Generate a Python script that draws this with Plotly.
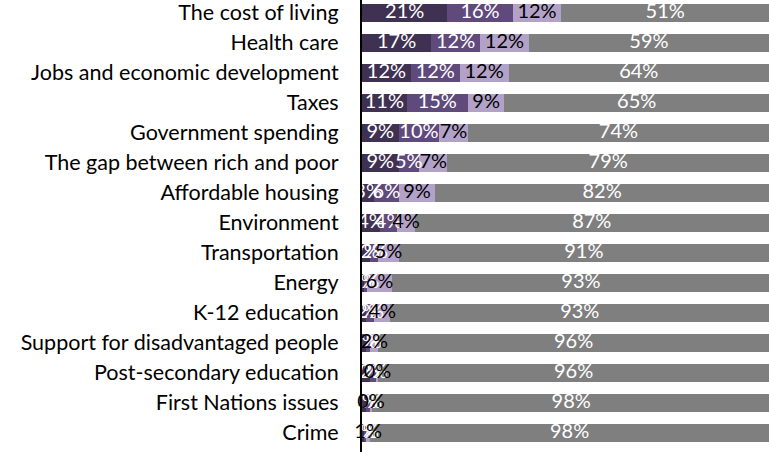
import plotly.graph_objects as go

categories = ["The cost of living", "Health care", "Jobs and economic development", "Taxes",
              "Government spending", "The gap between rich and poor", "Affordable housing",
              "Environment", "Transportation", "Energy", "K-12 education",
              "Support for disadvantaged people", "Post-secondary education",
              "First Nations issues", "Crime"]

dark_vals = [21, 17, 12, 11, 9, 9, 3, 4.4, 2, 0.4, 1, 1, 2, 1, 0.4]
medium_vals = [16, 12, 12, 15, 10, 5, 6, 4.3, 2, 0.9, 2, 1, 1.6, 1, 0.6]
light_vals = [12, 12, 12, 9, 7, 7, 9, 4.2, 5, 6, 4, 2, 0.4, 0.4, 1]
gray_vals = [51, 59, 64, 65, 74, 79, 82, 87.1, 91, 93, 93, 96, 96, 98, 98]

series = [
    (dark_vals, "#3f3151", "white"),
    (medium_vals, "#604a7b", "white"),
    (light_vals, "#b3a2c7", "black"),
    (gray_vals, "#7f7f7f", "white"),
]

FONT = "Lato"
LABEL_SIZE = 20
CAT_SIZE = 21.5

fig = go.Figure()
for vals, color, tcolor in series:
    fig.add_trace(go.Bar(
        x=vals, y=categories, orientation="h",
        marker=dict(color=color, line=dict(width=0)),
        showlegend=False, hoverinfo="x+y",
    ))

# value labels drawn above all bars, centred in each segment
base = [0.0] * len(categories)
for vals, color, tcolor in series:
    mids = [b + v / 2 for b, v in zip(base, vals)]
    fig.add_trace(go.Scatter(
        x=mids, y=categories, mode="text",
        text=[f"{v:.0f}%" for v in vals],
        textposition="middle center",
        textfont=dict(family=FONT, size=LABEL_SIZE, color=tcolor),
        showlegend=False, hoverinfo="skip", cliponaxis=False,
    ))
    base = [b + v for b, v in zip(base, vals)]

fig.update_layout(
    barmode="stack", bargap=0.42,
    width=769, height=455,
    margin=dict(l=362, r=0, t=0, b=3, pad=0),
    plot_bgcolor="white", paper_bgcolor="white",
    font=dict(family=FONT, size=LABEL_SIZE, color="black"),
)
fig.update_xaxes(range=[0, 100], visible=False, showgrid=False, zeroline=False)
fig.update_yaxes(
    categoryorder="array", categoryarray=categories,
    range=[14.64, -0.427], showgrid=False, zeroline=False, automargin=False,
    showline=True, linecolor="black", linewidth=2,
    ticks="", ticklabelstandoff=17,
    tickfont=dict(family=FONT, size=CAT_SIZE, color="black"),
)

fig.write_html("out.html", config={"displayModeBar": False},
               post_script="document.body.style.margin='0';document.body.style.overflow='hidden';")
